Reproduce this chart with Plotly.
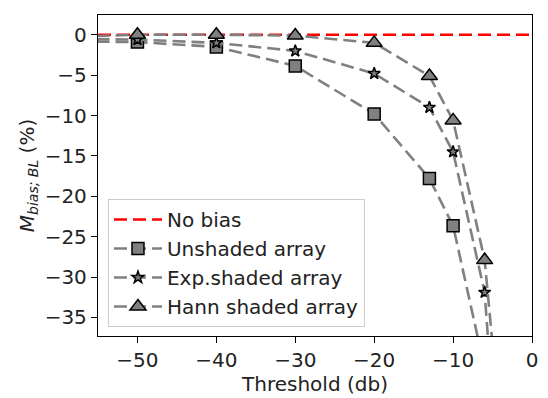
import plotly.graph_objects as go

# Data
x_unshaded = [-60, -50, -40, -30, -20, -13, -10, -6]
y_unshaded = [-0.8, -0.9, -1.5, -3.85, -9.8, -17.8, -23.65, -41.3]

x_exp = [-60, -50, -40, -30, -20, -13, -10, -6, -5]
y_exp = [-0.5, -0.6, -1.0, -2.0, -4.8, -9.0, -14.5, -31.9, -45.4]

x_hann = [-60, -50, -40, -30, -20, -13, -10, -6, -5]
y_hann = [-0.3, 0.0, 0.0, -0.1, -1.0, -5.1, -10.6, -27.9, -38.3]

x_range = [-55, 0]
y_range = [-37.3, 2.45]
x_ticks = [-50, -40, -30, -20, -10, 0]
y_ticks = [0, -5, -10, -15, -20, -25, -30, -35]

GRAY = "#808080"
FONT = "DejaVu Sans"
FS = 20
DASH = "13px,6px"
LW = 2.6


def lab(v):
    return f"\u2212{abs(v)}" if v < 0 else str(v)


fig = go.Figure()

fig.add_trace(go.Scatter(
    x=x_range, y=[0, 0], mode="lines", name="No bias",
    line=dict(color="red", width=LW, dash=DASH)))

fig.add_trace(go.Scatter(
    x=x_unshaded, y=y_unshaded, mode="lines+markers", name="Unshaded array",
    line=dict(color=GRAY, width=LW, dash=DASH),
    marker=dict(symbol="square", size=12, color=GRAY, line=dict(color="black", width=1.5))))

fig.add_trace(go.Scatter(
    x=x_exp, y=y_exp, mode="lines+markers", name="Exp.shaded array",
    line=dict(color=GRAY, width=LW, dash=DASH),
    marker=dict(symbol="star", size=9, color=GRAY, line=dict(color="black", width=1.5))))

fig.add_trace(go.Scatter(
    x=x_hann, y=y_hann, mode="lines+markers", name="Hann shaded array",
    line=dict(color=GRAY, width=LW, dash=DASH),
    marker=dict(symbol="triangle-up", size=14, color=GRAY, line=dict(color="black", width=1.5))))

axis_common = dict(
    showline=True, linecolor="black", linewidth=1.3, mirror=True,
    ticks="outside", ticklen=6, tickwidth=1.3, tickcolor="black",
    showgrid=False, zeroline=False,
    tickfont=dict(family=FONT, size=FS, color="#222222"),
)

fig.update_layout(
    width=548, height=398,
    margin=dict(l=98, r=10, t=15, b=60),
    plot_bgcolor="white", paper_bgcolor="white",
    font=dict(family=FONT, size=FS, color="#222222"),
    xaxis=dict(range=x_range, tickvals=x_ticks, ticktext=[lab(v) for v in x_ticks],
               title=dict(text="Threshold (db)", font=dict(family=FONT, size=FS), standoff=2), **axis_common),
    yaxis=dict(range=y_range, tickvals=y_ticks, ticktext=[lab(v) for v in y_ticks],
               title=dict(text="<i>M</i><sub><i>bias; BL</i></sub> (%)", font=dict(family=FONT, size=FS), standoff=4),
               **axis_common),
    legend=dict(x=0.023, y=0.028, xanchor="left", yanchor="bottom",
                bgcolor="rgba(255,255,255,0.8)", bordercolor="#cccccc", borderwidth=1,
                font=dict(family=FONT, size=FS), itemwidth=48),
    showlegend=True,
)

fig.write_html("out.html")
